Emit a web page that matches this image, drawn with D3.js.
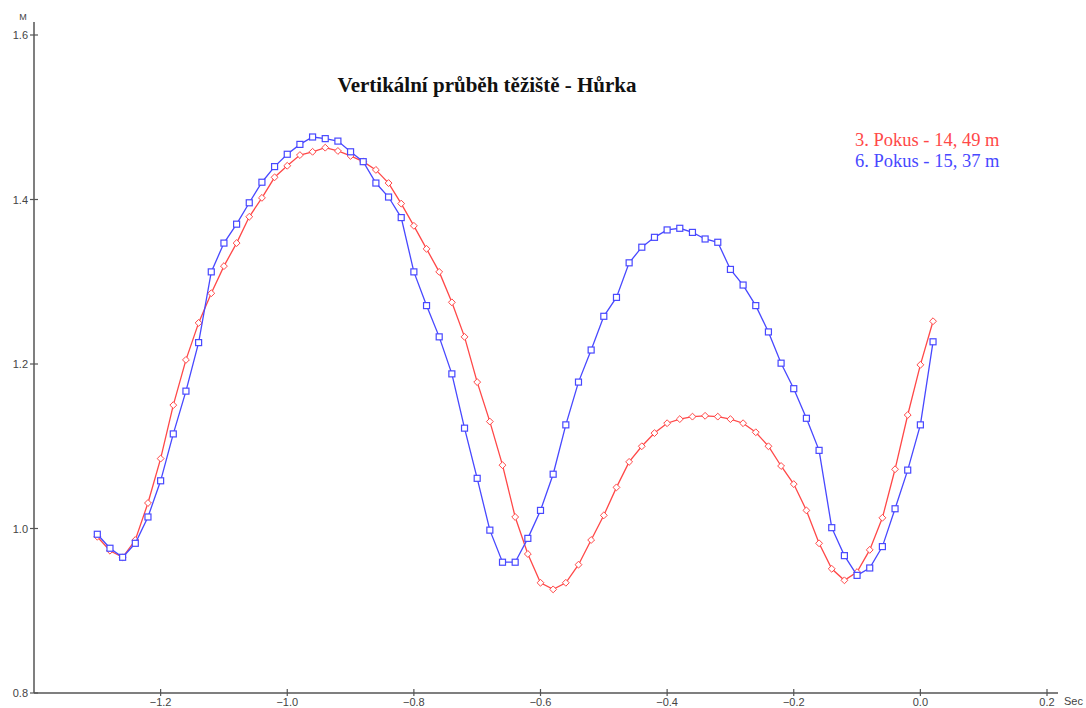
<!DOCTYPE html>
<html>
<head>
<meta charset="utf-8">
<script src="https://cdn.jsdelivr.net/npm/d3@7"></script>
<style>
  html, body { margin: 0; padding: 0; background: #fff; }
  svg { display: block; }
</style>
</head>
<body>
<svg id="chart" width="1086" height="708"></svg>
<script>
// Sample times (s), 50 Hz sampling
const times = [
  -1.30, -1.28, -1.26, -1.24, -1.22, -1.20, -1.18, -1.16, -1.14, -1.12,
  -1.10, -1.08, -1.06, -1.04, -1.02, -1.00, -0.98, -0.96, -0.94, -0.92,
  -0.90, -0.88, -0.86, -0.84, -0.82, -0.80, -0.78, -0.76, -0.74, -0.72,
  -0.70, -0.68, -0.66, -0.64, -0.62, -0.60, -0.58, -0.56, -0.54, -0.52,
  -0.50, -0.48, -0.46, -0.44, -0.42, -0.40, -0.38, -0.36, -0.34, -0.32,
  -0.30, -0.28, -0.26, -0.24, -0.22, -0.20, -0.18, -0.16, -0.14, -0.12,
  -0.10, -0.08, -0.06, -0.04, -0.02, 0.00, 0.02
];

// Centre-of-mass height (m), attempt 3
const pokus3 = [
  0.990, 0.973, 0.965, 0.986, 1.031, 1.085, 1.150, 1.205, 1.250, 1.286,
  1.319, 1.347, 1.379, 1.402, 1.427, 1.441, 1.454, 1.458, 1.463, 1.459,
  1.453, 1.446, 1.436, 1.420, 1.395, 1.368, 1.340, 1.312, 1.275, 1.233,
  1.178, 1.130, 1.077, 1.014, 0.969, 0.934, 0.926, 0.934, 0.956, 0.986,
  1.016, 1.050, 1.081, 1.100, 1.116, 1.128, 1.133, 1.136, 1.137, 1.136,
  1.133, 1.128, 1.117, 1.100, 1.076, 1.054, 1.022, 0.982, 0.951, 0.937,
  0.947, 0.974, 1.013, 1.072, 1.138, 1.199, 1.252
];

// Centre-of-mass height (m), attempt 6
const pokus6 = [
  0.993, 0.976, 0.965, 0.982, 1.014, 1.058, 1.115, 1.167, 1.226, 1.312,
  1.347, 1.370, 1.396, 1.421, 1.440, 1.455, 1.467, 1.476, 1.474, 1.471,
  1.458, 1.446, 1.420, 1.403, 1.378, 1.312, 1.271, 1.233, 1.188, 1.122,
  1.061, 0.998, 0.959, 0.959, 0.988, 1.022, 1.066, 1.126, 1.178, 1.217,
  1.258, 1.281, 1.323, 1.342, 1.354, 1.363, 1.365, 1.360, 1.352, 1.348,
  1.315, 1.296, 1.271, 1.239, 1.201, 1.170, 1.134, 1.095, 1.001, 0.967,
  0.943, 0.952, 0.978, 1.024, 1.071, 1.126, 1.227
];

const xTicks = [-1.2, -1.0, -0.8, -0.6, -0.4, -0.2, 0.0, 0.2];
const yTicks = [0.8, 1.0, 1.2, 1.4, 1.6];

const titleText = "Vertikální průběh těžiště - Hůrka";
const legendLabels = ["3. Pokus - 14, 49 m", "6. Pokus - 15, 37 m"];
const seriesColors = ["#ff4848", "#4848ff"];

const svg = d3.select("#chart");

const x = d3.scaleLinear().domain([-1.4, 0.2]).range([34, 1047]);
const y = d3.scaleLinear().domain([0.8, 1.6]).range([693, 35]);

const axisColor = "#555";
const labelColor = "#444";
const sansFont = "Liberation Sans, Arial, sans-serif";
const serifFont = "Liberation Serif, Times New Roman, serif";

// Y axis line and ticks
svg.append("line")
  .attr("x1", x(-1.4)).attr("x2", x(-1.4))
  .attr("y1", 22).attr("y2", y(0.8))
  .attr("stroke", axisColor).attr("stroke-width", 1.5);

const yg = svg.append("g");
yg.selectAll("line").data(yTicks).join("line")
  .attr("x1", x(-1.4) - 4).attr("x2", x(-1.4) + 4)
  .attr("y1", d => y(d)).attr("y2", d => y(d))
  .attr("stroke", axisColor).attr("stroke-width", 1.2);
yg.selectAll("text").data(yTicks).join("text")
  .attr("x", x(-1.4) - 6).attr("y", d => y(d) + 4)
  .attr("text-anchor", "end")
  .attr("font-family", sansFont)
  .attr("font-size", 11).attr("fill", labelColor)
  .text(d => d3.format(".1f")(d));

svg.append("text")
  .attr("x", 23).attr("y", 20)
  .attr("text-anchor", "middle")
  .attr("font-family", sansFont)
  .attr("font-size", 9).attr("fill", labelColor)
  .text("M");

// X axis line and ticks
svg.append("line")
  .attr("x1", x(-1.4)).attr("x2", 1058)
  .attr("y1", y(0.8)).attr("y2", y(0.8))
  .attr("stroke", axisColor).attr("stroke-width", 1.5);

const xg = svg.append("g");
xg.selectAll("line").data(xTicks).join("line")
  .attr("x1", d => x(d)).attr("x2", d => x(d))
  .attr("y1", y(0.8) - 4).attr("y2", y(0.8) + 3)
  .attr("stroke", axisColor).attr("stroke-width", 1.2);
xg.selectAll("text").data(xTicks).join("text")
  .attr("x", d => x(d)).attr("y", y(0.8) + 13)
  .attr("text-anchor", "middle")
  .attr("font-family", sansFont)
  .attr("font-size", 11).attr("fill", labelColor)
  .text(d => d3.format(".1f")(d));

svg.append("text")
  .attr("x", 1064).attr("y", y(0.8) + 12)
  .attr("font-family", sansFont)
  .attr("font-size", 11).attr("fill", labelColor)
  .text("Sec");

// Title
svg.append("text")
  .attr("x", 487).attr("y", 92)
  .attr("text-anchor", "middle")
  .attr("font-family", serifFont)
  .attr("font-weight", "bold")
  .attr("font-size", 21).attr("fill", "#111")
  .text(titleText);

// Series
const series = [pokus3, pokus6].map((vals, i) => ({
  color: seriesColors[i],
  points: times.map((t, j) => [t, vals[j]])
}));

const line = d3.line().x(d => x(d[0])).y(d => y(d[1]));

series.forEach((s, i) => {
  const g = svg.append("g");
  g.append("path")
    .attr("d", line(s.points))
    .attr("fill", "none")
    .attr("stroke", s.color)
    .attr("stroke-width", 1.3);
  if (i === 0) {
    // small open diamonds
    g.selectAll("path.m").data(s.points).join("path")
      .attr("class", "m")
      .attr("d", d3.symbol().type(d3.symbolDiamond2).size(30)())
      .attr("transform", d => `translate(${x(d[0])},${y(d[1])})`)
      .attr("fill", "#fff").attr("stroke", s.color).attr("stroke-width", 1);
  } else {
    // small open squares
    g.selectAll("rect").data(s.points).join("rect")
      .attr("x", d => x(d[0]) - 3).attr("y", d => y(d[1]) - 3)
      .attr("width", 6).attr("height", 6)
      .attr("fill", "#fff").attr("stroke", s.color).attr("stroke-width", 1.2);
  }
});

// Legend
svg.selectAll("text.legend").data(legendLabels).join("text")
  .attr("class", "legend")
  .attr("x", 855).attr("y", (d, i) => 146 + i * 21)
  .attr("font-family", serifFont)
  .attr("font-size", 18.5).attr("fill", (d, i) => seriesColors[i])
  .text(d => d);
</script>
</body>
</html>
